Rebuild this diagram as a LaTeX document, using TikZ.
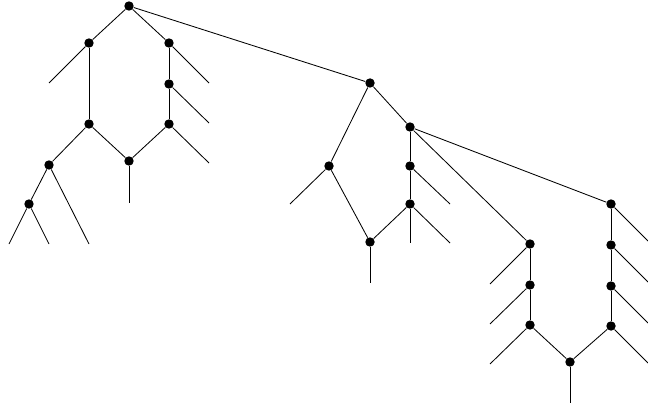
\documentclass[tikz,border=0pt]{standalone}
\usepackage{tikz}
\usetikzlibrary{positioning}

\tikzset{
  vertex/.style={circle, fill=black, inner sep=0pt, minimum size=0.235cm},
  branch/.style={line width=0.6pt, black}
}

\begin{document}
\begin{tikzpicture}[x=0.025cm, y=-0.025cm]
  \useasboundingbox (0,0) rectangle (648,412);

  % Left subtree
  \node[vertex] (r) at (129,6) {};
  \node[vertex] (a) at (89,43) {};
  \node[vertex] (b) at (169,43) {};
  \node[vertex] (b2) at (169,84) {};
  \node[vertex] (b3) at (169,124) {};
  \node[vertex] (a2) at (89,124) {};
  \node[vertex] (c) at (129,161) {};
  \node[vertex] (d) at (49,165) {};
  \node[vertex] (e) at (29,204) {};

  % Middle subtree
  \node[vertex] (m) at (370,83) {};
  \node[vertex] (f) at (329,166) {};
  \node[vertex] (g) at (410,127) {};
  \node[vertex] (g2) at (410,166) {};
  \node[vertex] (g3) at (410,204) {};
  \node[vertex] (h) at (370,242) {};

  % Right subtree
  \node[vertex] (p) at (530,244) {};
  \node[vertex] (p2) at (530,285) {};
  \node[vertex] (p3) at (530,325) {};
  \node[vertex] (q) at (611,204) {};
  \node[vertex] (q2) at (611,245) {};
  \node[vertex] (q3) at (611,286) {};
  \node[vertex] (q4) at (611,326) {};
  \node[vertex] (s) at (570,362) {};

  % Inner edges
  \foreach \u/\v in {r/a, r/b, r/m, a/a2, b/b2, b2/b3, a2/c, b3/c, a2/d, d/e,
                     m/f, m/g, f/h, h/g3, g/g2, g2/g3, g/p, g/q,
                     p/p2, p2/p3, p3/s, q/q2, q2/q3, q3/q4, q4/s}
    \draw[branch] (\u) -- (\v);

  % Leaves
  \foreach \n/\x/\y [count=\i] in {a/49/83, b/209/83, b2/209/123, b3/209/163,
      c/129/203, d/89/244, e/9/244, e/49/244,
      f/290/204, h/370/283, g2/450/204, g3/450/243, g3/410/243,
      p/490/284, p2/490/324, p3/490/364, s/570/403,
      q/648/241, q2/648/282, q3/648/323, q4/648/363} {
    \coordinate (leaf\i) at (\x,\y);
    \draw[branch] (\n) -- (leaf\i);
  }
\end{tikzpicture}
\end{document}
